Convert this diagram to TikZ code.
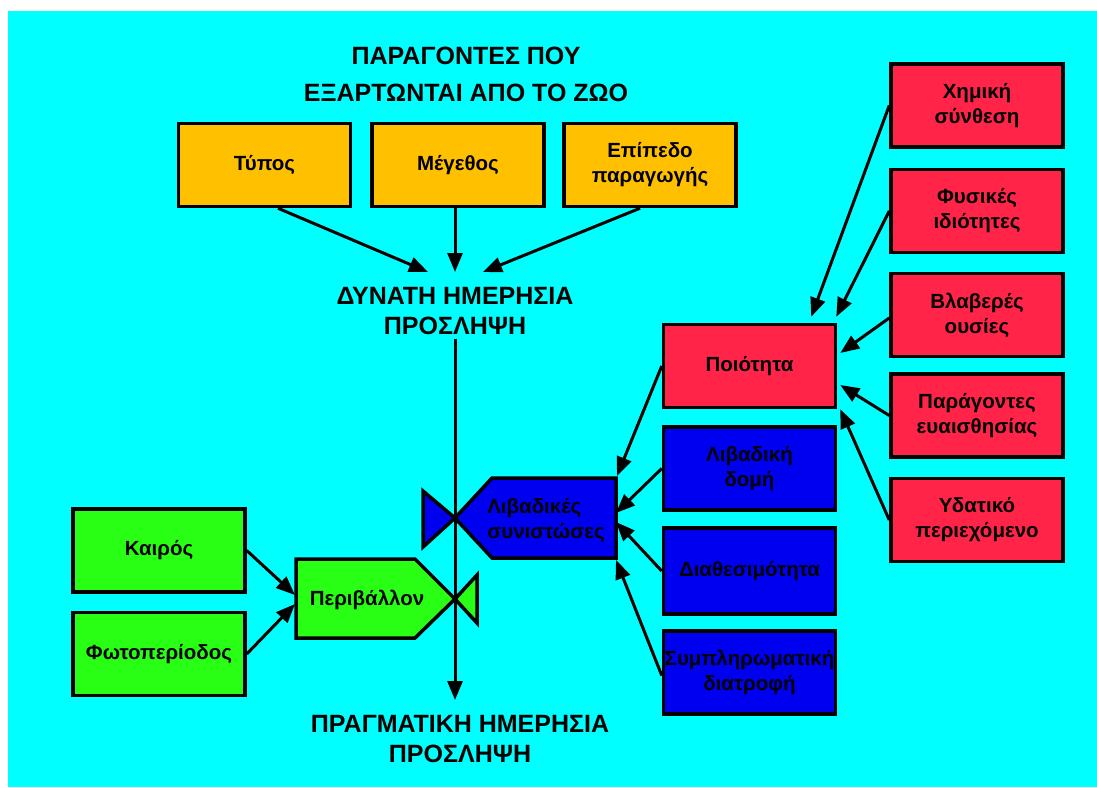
\documentclass[tikz,border=0pt]{standalone}
\usepackage{fontspec}
\setmainfont{Liberation Sans}
\usepackage{tikz}
\usetikzlibrary{arrows.meta,calc,positioning}

\definecolor{bgcyan}{RGB}{0,255,255}
\definecolor{boxorange}{RGB}{255,192,0}
\definecolor{boxred}{RGB}{255,36,72}
\definecolor{boxblue}{RGB}{0,0,240}
\definecolor{boxgreen}{RGB}{40,255,20}

\tikzset{
  factor/.style={draw=black, line width=3.5pt, minimum width=172pt, minimum height=83pt,
    inner sep=0pt, align=center, font=\fontsize{20.5}{25}\selectfont\bfseries},
  heading/.style={align=center, inner sep=0pt, font=\fontsize{25}{30}\selectfont\bfseries},
  plain/.style={inner sep=0pt, font=\fontsize{20.5}{25}\selectfont\bfseries},
  arr/.style={line width=3pt, -{Triangle[length=19pt,width=15pt]}},
  bevel/.style={draw=black, line width=3.5pt, line join=miter}
}

\begin{document}
\begin{tikzpicture}[x=1pt,y=-1pt]
  \useasboundingbox (0,0) rectangle (1097,787);
  \fill[white] (0,0) rectangle (1097,787);
  \fill[bgcyan] (8,11) rectangle (1097,787);

  % headings
  \node[heading, font=\fontsize{25}{37}\selectfont\bfseries] (title) at (466,74.5) {ΠΑΡΑΓΟΝΤΕΣ ΠΟΥ\\ΕΞΑΡΤΩΝΤΑΙ ΑΠΟ ΤΟ ΖΩΟ};
  \node[heading, anchor=north] (pot) at (455,287) {ΔΥΝΑΤΗ ΗΜΕΡΗΣΙΑ\\ΠΡΟΣΛΗΨΗ};
  \node[heading, anchor=north] (act) at (460,715) {ΠΡΑΓΜΑΤΙΚΗ ΗΜΕΡΗΣΙΑ\\ΠΡΟΣΛΗΨΗ};

  % animal factors
  \node[factor, fill=boxorange] (type) at (264.5,165) {Τύπος};
  \node[factor, fill=boxorange] (size) at (458,165) {Μέγεθος};
  \node[factor, fill=boxorange] (level) at (650,165) {Επίπεδο\\παραγωγής};

  % pasture and environment shapes
  \coordinate (pasNE) at (616,478);
  \coordinate (pasE) at (616,518);
  \coordinate (pasSE) at (616,558);
  \coordinate (envW) at (296,599);
  \draw[bevel, fill=boxblue] (pasNE) -- (492,478) -- (455,518) -- (492,558) -- (pasSE) -- cycle;
  \draw[bevel, fill=boxblue] (455,518) -- (423,491) -- (423,547) -- cycle;
  \draw[bevel, fill=boxgreen] (296,559) -- (415,559) -- (455,599) -- (415,638) -- (296,638) -- cycle;
  \draw[bevel, fill=boxgreen] (455,599) -- (477,575) -- (477,623) -- cycle;
  \node[plain, align=left] (pasture) at (546,520) {Λιβαδικές\\συνιστώσες};
  \node[plain] (envir) at (367,600) {Περιβάλλον};

  % quality factors
  \node[factor, fill=boxred] (chem) at (977,105.5) {Χημική\\σύνθεση};
  \node[factor, fill=boxred] (phys) at (977,211) {Φυσικές\\ιδιότητες};
  \node[factor, fill=boxred] (harm) at (977,315) {Βλαβερές\\ουσίες};
  \node[factor, fill=boxred] (sens) at (977,415.5) {Παράγοντες\\ευαισθησίας};
  \node[factor, fill=boxred] (water) at (977,520) {Υδατικό\\περιεχόμενο};
  \node[factor, fill=boxred] (qual) at (749.5,366) {Ποιότητα};

  % pasture components
  \node[factor, fill=boxblue] (struct) at (749.5,468.5) {Λιβαδική\\δομή};
  \node[factor, fill=boxblue, minimum height=86pt] (avail) at (749.5,571) {Διαθεσιμότητα};
  \node[factor, fill=boxblue] (supp) at (749.5,672.5) {Συμπληρωματική\\διατροφή};

  % environment
  \node[factor, fill=boxgreen] (weather) at (159,550.5) {Καιρός};
  \node[factor, fill=boxgreen] (photo) at (159,654) {Φωτοπερίοδος};

  % arrows
  \draw[arr] ([xshift=13.5pt]type.south) -- ([xshift=-27pt,yshift=15pt]pot.north);
  \draw[arr] ([xshift=-3pt]size.south) -- ([yshift=15pt]pot.north);
  \draw[arr] ([xshift=-10pt]level.south) -- ([xshift=28pt,yshift=15pt]pot.north);
  \draw[arr] ([yshift=-4pt]pot.south) -- ([xshift=-5pt,yshift=15pt]act.north);

  \draw[arr] (chem.west) -- ([xshift=-26pt,yshift=6pt]qual.north east);
  \draw[arr] (phys.west) -- ([xshift=-1pt,yshift=6pt]qual.north east);
  \draw[arr] ([yshift=-3pt]harm.west) -- ([xshift=3pt,yshift=13pt]qual.east);
  \draw[arr] (sens.west) -- ([xshift=3pt,yshift=-19pt]qual.east);
  \draw[arr] (water.west) -- ([xshift=3pt]qual.south east);

  \draw[arr] (qual.west) -- ([xshift=1pt,yshift=2pt]pasNE);
  \draw[arr] (struct.west) -- ([yshift=5pt]pasE);
  \draw[arr] (avail.west) -- ([yshift=-4pt]pasE);
  \draw[arr] ([yshift=-3pt]supp.west) -- ([yshift=-2pt]pasSE);

  \draw[arr] (weather.east) -- ([xshift=-1pt,yshift=4pt]envW);
  \draw[arr] (photo.east) -- ([xshift=-1pt,yshift=-5pt]envW);
\end{tikzpicture}
\end{document}
